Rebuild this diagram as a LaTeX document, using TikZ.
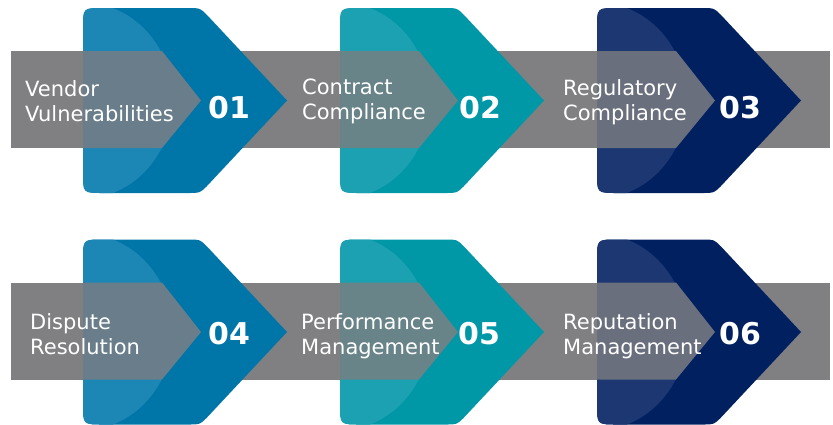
\documentclass[tikz,border=0pt]{standalone}
\usepackage{fontspec}
\setmainfont{DejaVu Sans}
\usepackage{tikz}
\definecolor{bluDark}{RGB}{0,117,168}
\definecolor{bluLight}{RGB}{28,135,180}
\definecolor{tealDark}{RGB}{0,151,167}
\definecolor{tealLight}{RGB}{27,161,177}
\definecolor{navyDark}{RGB}{0,32,96}
\definecolor{navyLight}{RGB}{28,55,114}
\definecolor{barGrey}{RGB}{128,128,131}
\newcommand{\chevpath}{(204,92.5) -- (124,7) .. controls (117,0) .. (106,0) -- (20,0) .. controls (0,0) .. (0,20) -- (0,165) .. controls (0,185) .. (20,185) -- (106,185) .. controls (117,185) .. (124,178) -- cycle}
\newcommand{\stage}[8]{\begin{scope}[shift={(#2,#3)}]\fill[#4Dark] \chevpath;\begin{scope}\clip \chevpath;\fill[#4Light] (0,92.5) ellipse [x radius=90, y radius=98];\fill[barGrey!82!#4Dark] (0,43) -- (79,43) -- (118,92.5) -- (79,140) -- (0,140) -- cycle;\end{scope}\end{scope}\node[label text](lab#1) at #5 {#6};\node[number text](num#1) at #7 {#8};}

\begin{document}
\begin{tikzpicture}[x=1pt,y=-1pt,
	label text/.style={anchor=west,inner sep=0pt,align=left,text=white,font=\fontsize{21}{25}\selectfont},
	number text/.style={inner sep=0pt,text=white,font=\fontsize{30}{36}\selectfont\bfseries}]
	\useasboundingbox (0,0) rectangle (833,424);

	\fill[barGrey] (11,51) rectangle (830,148);
	\fill[barGrey] (11,283) rectangle (830,380);

	\stage{1}{83}{8}{blu}{(25,101)}{Vendor\\Vulnerabilities}{(229,107.5)}{01}
	\stage{2}{340}{8}{teal}{(302,101.5)}{Contract\\Compliance}{(480,107.5)}{02}
	\stage{3}{597}{8}{navy}{(563,102.5)}{Regulatory\\Compliance}{(740,107.5)}{03}

	\stage{4}{83}{239.5}{blu}{(30,334.5)}{Dispute\\Resolution}{(229,334)}{04}
	\stage{5}{340}{239.5}{teal}{(301,336.5)}{Performance\\Management}{(479,334)}{05}
	\stage{6}{597}{239.5}{navy}{(563,336.5)}{Reputation\\Management}{(740,334)}{06}
\end{tikzpicture}
\end{document}
